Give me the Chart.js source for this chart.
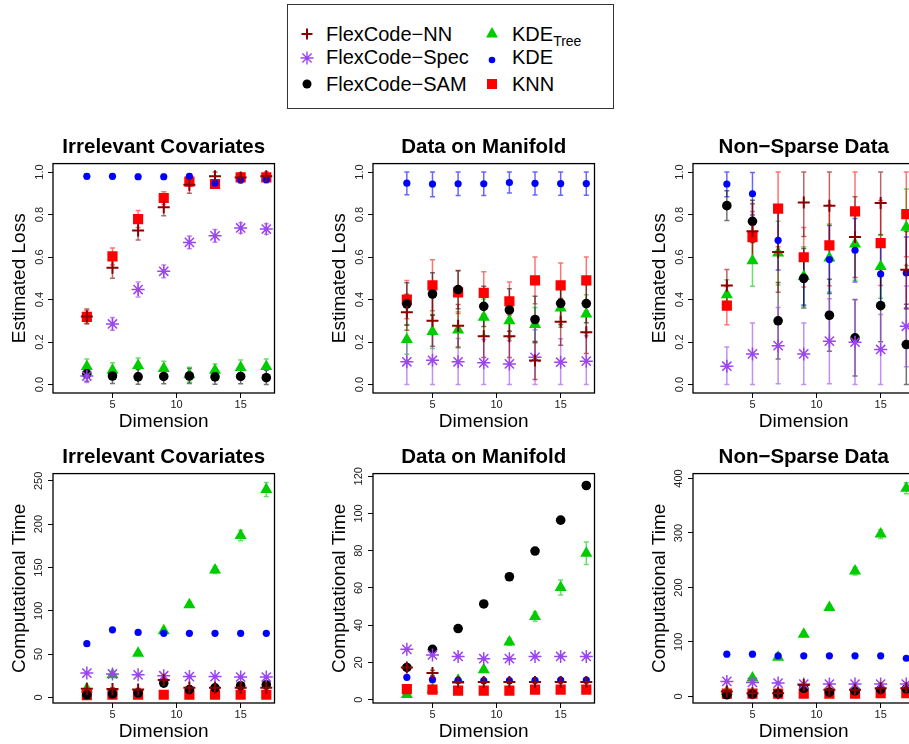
<!DOCTYPE html>
<html>
<head>
<meta charset="utf-8">
<script src="https://cdn.jsdelivr.net/npm/chart.js@4"></script>
<style>
  html, body { margin:0; padding:0; background:#fff; overflow:hidden; width:909px; height:744px; }
  body { position:relative; font-family:"Liberation Sans", Arial, sans-serif; }
  canvas.panel { position:absolute; }
  #legend { position:absolute; left:287px; top:4px; width:327px; height:105px; box-sizing:border-box; border:1px solid #333; }
  #legend .sym { position:absolute; width:16px; height:16px; }
  #legend .txt { position:absolute; font-size:20px; line-height:24px; height:24px; white-space:nowrap; color:#000; }
  #legend sub { font-size:14px; vertical-align:-5px; line-height:0; }
</style>
</head>
<body>

<!-- leyenda en HTML (R la dibuja aparte, arriba al centro) -->
<div id="legend">
  <svg class="sym" style="left:11px;top:21px" viewBox="0 0 16 16"><path d="M2.5 8H13.5M8 2.5V13.5" stroke="#8B0000" stroke-width="2"/></svg>
  <span class="txt" style="left:38px;top:17px">FlexCode−NN</span>
  <svg class="sym" style="left:11px;top:45px" viewBox="0 0 16 16"><path d="M1.5 8H14.5M8 1.5V14.5M3.4 3.4L12.6 12.6M3.4 12.6L12.6 3.4" stroke="#9B45EE" stroke-width="1.4"/></svg>
  <span class="txt" style="left:38px;top:40px">FlexCode−Spec</span>
  <svg class="sym" style="left:11px;top:71px" viewBox="0 0 16 16"><circle cx="8" cy="8" r="4.5" fill="#000"/></svg>
  <span class="txt" style="left:38px;top:67px">FlexCode−SAM</span>

  <svg class="sym" style="left:196px;top:20px" viewBox="0 0 16 16"><path d="M8 2L14 12.5H2Z" fill="#00CD00"/></svg>
  <span class="txt" style="left:224px;top:17px">KDE<sub>Tree</sub></span>
  <svg class="sym" style="left:196px;top:47px" viewBox="0 0 16 16"><circle cx="8" cy="8" r="3.3" fill="#0000FF"/></svg>
  <span class="txt" style="left:224px;top:40px">KDE</span>
  <svg class="sym" style="left:196px;top:71px" viewBox="0 0 16 16"><rect x="3" y="3" width="10" height="10" fill="#FF0000"/></svg>
  <span class="txt" style="left:224px;top:67px">KNN</span>
</div>

<canvas id="p1" class="panel" width="300" height="305" style="left:0px;top:130px"></canvas>
<canvas id="p2" class="panel" width="300" height="305" style="left:320px;top:130px"></canvas>
<canvas id="p3" class="panel" width="300" height="305" style="left:640px;top:130px"></canvas>
<canvas id="p4" class="panel" width="300" height="305" style="left:0px;top:440px"></canvas>
<canvas id="p5" class="panel" width="300" height="305" style="left:320px;top:440px"></canvas>
<canvas id="p6" class="panel" width="300" height="305" style="left:640px;top:440px"></canvas>

<script>
// === DATOS ===
const dims = [3, 5, 7, 9, 11, 13, 15, 17];
const dimTicks = [5, 10, 15];
const dimLabels = ['5', '10', '15'];
// orden de series: NN, Spec, SAM, KDE_Tree, KDE, KNN
const seriesNames = ['FlexCode−NN', 'FlexCode−Spec', 'FlexCode−SAM', 'KDE_Tree', 'KDE', 'KNN'];

const lossTicks = [0, 0.2, 0.4, 0.6, 0.8, 1.0];
const lossLabels = ['0.0', '0.2', '0.4', '0.6', '0.8', '1.0'];
const icTimeTicks = [0, 50, 100, 150, 200, 250];
const icTimeLabels = ['0', '50', '100', '150', '200', '250'];
const dmTimeTicks = [0, 20, 40, 60, 80, 100, 120];
const dmTimeLabels = ['0', '20', '40', '60', '80', '100', '120'];
const nsTimeTicks = [0, 100, 200, 300, 400];
const nsTimeLabels = ['0', '100', '200', '300', '400'];

// Irrelevant Covariates - loss
const icLoss = [
  [0.32, 0.55, 0.725, 0.835, 0.94, 0.98, 0.975, 0.98],
  [0.04, 0.285, 0.447, 0.533, 0.669, 0.70, 0.737, 0.732],
  [0.05, 0.04, 0.036, 0.038, 0.04, 0.036, 0.038, 0.032],
  [0.085, 0.067, 0.09, 0.075, 0.046, 0.067, 0.08, 0.085],
  [0.98, 0.98, 0.978, 0.978, 0.98, 0.948, 0.964, 0.965],
  [0.318, 0.603, 0.779, 0.878, 0.955, 0.944, 0.975, 0.975]
];
const icLossErr = [
  [0.035, 0.05, 0.045, 0.04, 0.04, 0.02, 0.02, 0.02],
  [0.03, 0.03, 0.035, 0.03, 0.03, 0.03, 0.025, 0.025],
  [0.035, 0.035, 0.035, 0.035, 0.035, 0.035, 0.035, 0.035],
  [0.035, 0.035, 0.035, 0.035, 0.035, 0.03, 0.035, 0.035],
  [0.012, 0.012, 0.012, 0.012, 0.012, 0.015, 0.015, 0.015],
  [0.03, 0.04, 0.04, 0.03, 0.02, 0.02, 0.015, 0.015]
];

// Data on Manifold - loss
const dmLoss = [
  [0.34, 0.30, 0.277, 0.227, 0.227, 0.113, 0.295, 0.246],
  [0.107, 0.114, 0.107, 0.102, 0.097, 0.128, 0.105, 0.11],
  [0.379, 0.426, 0.447, 0.368, 0.351, 0.306, 0.382, 0.381],
  [0.212, 0.25, 0.257, 0.317, 0.30, 0.282, 0.36, 0.332],
  [0.948, 0.944, 0.945, 0.945, 0.951, 0.947, 0.946, 0.946],
  [0.40, 0.467, 0.434, 0.431, 0.392, 0.49, 0.467, 0.49]
];
const dmLossErr = [
  [0.085, 0.12, 0.1, 0.1, 0.1, 0.09, 0.11, 0.1],
  [0.11, 0.12, 0.11, 0.11, 0.11, 0.13, 0.11, 0.12],
  [0.1, 0.1, 0.09, 0.095, 0.1, 0.11, 0.1, 0.09],
  [0.07, 0.08, 0.085, 0.085, 0.08, 0.08, 0.09, 0.09],
  [0.055, 0.06, 0.055, 0.055, 0.05, 0.055, 0.055, 0.055],
  [0.09, 0.12, 0.1, 0.1, 0.09, 0.11, 0.105, 0.11]
];

// Non-Sparse Data - loss
const nsLoss = [
  [0.466, 0.721, 0.624, 0.857, 0.842, 0.694, 0.854, 0.54],
  [0.086, 0.144, 0.183, 0.144, 0.204, 0.199, 0.165, 0.274],
  [0.842, 0.768, 0.30, 0.50, 0.326, 0.22, 0.371, 0.188],
  [0.423, 0.583, 0.619, 0.509, 0.596, 0.661, 0.556, 0.74],
  [0.944, 0.898, 0.679, 0.494, 0.588, 0.632, 0.52, 0.525],
  [0.371, 0.694, 0.828, 0.599, 0.655, 0.815, 0.666, 0.802]
];
const nsLossErr = [
  [0.075, 0.13, 0.19, 0.16, 0.17, 0.19, 0.15, 0.18],
  [0.09, 0.145, 0.18, 0.145, 0.2, 0.2, 0.165, 0.19],
  [0.07, 0.1, 0.18, 0.14, 0.17, 0.18, 0.17, 0.19],
  [0.07, 0.12, 0.15, 0.14, 0.16, 0.17, 0.15, 0.18],
  [0.06, 0.1, 0.14, 0.12, 0.16, 0.15, 0.13, 0.17],
  [0.09, 0.12, 0.18, 0.14, 0.19, 0.19, 0.2, 0.2]
];

// Irrelevant Covariates - tiempo
const icTime = [
  [10, 9.6, 9, 20, 11, 11, 11, 11],
  [28, 27, 26, 25, 24, 24, 23.5, 23.5],
  [3, 4, 5, 16.5, 9, 11, 13.5, 14.6],
  [9.6, 26, 51, 77, 107, 147, 187, 240],
  [62, 78, 75, 74, 74, 74, 74, 74],
  [2.5, 3, 3, 3, 3, 3, 3, 3]
];
const icTimeErr = [
  [1.5, 1.5, 1.5, 2, 1.5, 1.5, 1.5, 1.5],
  [1, 1, 1, 1, 1, 1, 1, 1],
  [0.5, 0.5, 0.5, 1, 0.8, 0.8, 1, 1],
  [1, 1.5, 2, 2.5, 3, 4, 6, 8],
  [1, 1, 1, 1, 1, 1, 1, 1],
  [0.3, 0.3, 0.3, 0.3, 0.3, 0.3, 0.3, 0.3]
];

// Data on Manifold - tiempo
const dmTime = [
  [17.3, 14.3, 9.5, 9.5, 9.5, 9.5, 9.5, 9.5],
  [27, 24, 23.2, 22, 22, 23.2, 23.2, 23.2],
  [17.3, 27, 38.2, 51.4, 66, 79.8, 96.4, 115],
  [2.7, 5.4, 10.4, 16, 31, 44.6, 60.2, 78.6],
  [12, 10.7, 10.4, 10.2, 10.2, 10.4, 10.5, 10.5],
  [5.7, 5.4, 4.8, 4.8, 4.8, 5.4, 5.4, 5.4]
];
const dmTimeErr = [
  [1.5, 1.5, 0.5, 0.5, 0.5, 0.5, 0.5, 0.5],
  [0.5, 0.5, 0.5, 0.5, 0.5, 0.5, 0.5, 0.5],
  [0.5, 0.5, 0.7, 0.8, 1, 1, 1.2, 1.5],
  [0.3, 0.5, 1, 1.2, 1.8, 2.5, 4, 6],
  [0.3, 0.3, 0.3, 0.3, 0.3, 0.3, 0.3, 0.3],
  [0.3, 0.3, 0.3, 0.3, 0.3, 0.3, 0.3, 0.3]
];

// Non-Sparse Data - tiempo
const nsTime = [
  [9, 6, 6, 21, 12, 12, 15, 15],
  [27.5, 25.6, 24.4, 22.6, 22.6, 22.6, 22.6, 22.6],
  [3, 4, 5, 15, 8, 10, 13, 14],
  [9, 33.6, 72, 114, 163, 230, 298, 382],
  [77.6, 77.6, 74.5, 74.5, 74.5, 74.5, 74.5, 70],
  [5, 5, 5, 5, 5, 5, 6, 6]
];
const nsTimeErr = [
  [2, 1, 1, 3, 1.5, 1.5, 2, 2],
  [1, 1, 1, 1, 1, 1, 1, 1],
  [0.5, 0.5, 0.5, 1.5, 1, 1, 1.5, 1.5],
  [1, 3, 3, 4, 5, 7, 8, 10],
  [1, 1, 1, 1, 1, 1, 1, 1],
  [0.5, 0.5, 0.5, 0.5, 0.5, 0.5, 0.5, 0.5]
];

// === ESTILO ===
const FONT = '"Liberation Sans", Arial, sans-serif';
// order: menor = se dibuja encima
const styles = [
  { color:'#8B0000', bar:'rgba(139,0,0,0.6)',   pointStyle:'cross',    radius:6,   bw:2,   order:0 },
  { color:'#9B45EE', bar:'rgba(155,69,238,0.6)', pointStyle:'star',    radius:6.5, bw:1.5, order:1 },
  { color:'#000000', bar:'rgba(0,0,0,0.55)',    pointStyle:'circle',   radius:4.8, bw:0,   order:2 },
  { color:'#00CD00', bar:'rgba(0,205,0,0.6)',   pointStyle:'triangle', radius:7,   bw:0,   order:5 },
  { color:'#0000FF', bar:'rgba(0,0,255,0.6)',   pointStyle:'circle',   radius:3.6, bw:0,   order:3 },
  { color:'#FF0000', bar:'rgba(255,0,0,0.55)',  pointStyle:'rect',     radius:7.2, bw:0,   order:4 }
];

// barras de error (estilo arrows() de R)
const errorBars = {
  id: 'errorBars',
  beforeDatasetsDraw(chart, args, opts){
    const {ctx, chartArea:a} = chart;
    const xs = chart.scales.x, ys = chart.scales.y;
    ctx.save();
    ctx.beginPath(); ctx.rect(a.left, a.top, a.right - a.left, a.bottom - a.top); ctx.clip();
    ctx.lineWidth = 1.5;
    const sets = chart.data.datasets.slice().sort((p, q) => q.order - p.order);
    sets.forEach(ds => {
      ctx.strokeStyle = ds.barColor;
      ds.data.forEach((p, i) => {
        let lo = p.y - ds.err[i], hi = p.y + ds.err[i];
        if (opts.clamp){ lo = Math.max(lo, opts.clamp[0]); hi = Math.min(hi, opts.clamp[1]); }
        const x = xs.getPixelForValue(p.x);
        const y1 = ys.getPixelForValue(lo), y2 = ys.getPixelForValue(hi);
        ctx.beginPath();
        ctx.moveTo(x, y1); ctx.lineTo(x, y2);
        ctx.moveTo(x - 2.5, y1); ctx.lineTo(x + 2.5, y1);
        ctx.moveTo(x - 2.5, y2); ctx.lineTo(x + 2.5, y2);
        ctx.stroke();
      });
    });
    ctx.restore();
  }
};

// caja alrededor del área de datos (box() de R)
const plotBox = {
  id: 'plotBox',
  afterDraw(chart){
    const {ctx, chartArea:a} = chart;
    ctx.save();
    ctx.strokeStyle = '#000'; ctx.lineWidth = 1.3;
    ctx.strokeRect(a.left, a.top, a.right - a.left, a.bottom - a.top);
    ctx.restore();
  }
};

function makePanel(id, title, yTitle, means, errs, yMin, yMax, yTicks, yLabels, clamp){
  const datasets = means.map((vals, k) => ({
    label: seriesNames[k],
    data: dims.map((d, i) => ({ x: d, y: vals[i] })),
    err: errs[k],
    barColor: styles[k].bar,
    order: styles[k].order,
    showLine: false,
    pointStyle: styles[k].pointStyle,
    pointRadius: styles[k].radius,
    pointBorderWidth: styles[k].bw,
    pointBorderColor: styles[k].color,
    pointBackgroundColor: styles[k].color,
    borderColor: styles[k].color,
    backgroundColor: styles[k].color
  }));
  return new Chart(document.getElementById(id), {
    type: 'scatter',
    data: { datasets },
    options: {
      responsive: false, animation: false, devicePixelRatio: 1, events: [],
      layout: { padding: { left: 0, right: 25.5, top: 0, bottom: 0 } },
      plugins: {
        legend: { display: false },
        tooltip: { enabled: false },
        title: { display: true, text: title, fullSize: false, color: '#000',
                 font: { family: FONT, size: 20.5, weight: 'bold' }, padding: { top: 5, bottom: 4 } },
        errorBars: { clamp }
      },
      scales: {
        x: {
          type: 'linear', min: 0.36, max: 17.64,
          afterBuildTicks: s => { s.ticks = dimTicks.map(v => ({ value: v })); },
          afterFit: s => { s.height = 42; },
          grid: { drawOnChartArea: false, drawTicks: true, tickLength: 5, color: '#000', lineWidth: 1 },
          border: { display: false },
          ticks: { autoSkip: false, padding: 0, color: '#222', maxRotation: 0,
                   font: { family: FONT, size: 11 }, callback: (v, i) => dimLabels[i] },
          title: { display: true, text: 'Dimension', color: '#000',
                   font: { family: FONT, size: 19 }, padding: { top: 0, bottom: 2 } }
        },
        y: {
          type: 'linear', min: yMin, max: yMax,
          afterBuildTicks: s => { s.ticks = yTicks.map(v => ({ value: v })); },
          afterFit: s => { s.width = 53; },
          grid: { drawOnChartArea: false, drawTicks: true, tickLength: 5, color: '#000', lineWidth: 1 },
          border: { display: false },
          ticks: { autoSkip: false, padding: 0, color: '#222', minRotation: 90, maxRotation: 90,
                   crossAlign: 'center', font: { family: FONT, size: 11 }, callback: (v, i) => yLabels[i] },
          title: { display: true, text: yTitle, color: '#000',
                   font: { family: FONT, size: 19 }, padding: { top: 8, bottom: 0 } }
        }
      }
    },
    plugins: [errorBars, plotBox]
  });
}

makePanel('p1', 'Irrelevant Covariates', 'Estimated Loss', icLoss, icLossErr, -0.04, 1.04, lossTicks, lossLabels, [0, 1]);
makePanel('p2', 'Data on Manifold', 'Estimated Loss', dmLoss, dmLossErr, -0.04, 1.04, lossTicks, lossLabels, [0, 1]);
makePanel('p3', 'Non−Sparse Data', 'Estimated Loss', nsLoss, nsLossErr, -0.04, 1.04, lossTicks, lossLabels, [0, 1]);
makePanel('p4', 'Irrelevant Covariates', 'Computational Time', icTime, icTimeErr, -6.5, 258.4, icTimeTicks, icTimeLabels, null);
makePanel('p5', 'Data on Manifold', 'Computational Time', dmTime, dmTimeErr, -1.8, 121.4, dmTimeTicks, dmTimeLabels, null);
makePanel('p6', 'Non−Sparse Data', 'Computational Time', nsTime, nsTimeErr, -12.1, 409, nsTimeTicks, nsTimeLabels, null);
</script>
</body>
</html>
